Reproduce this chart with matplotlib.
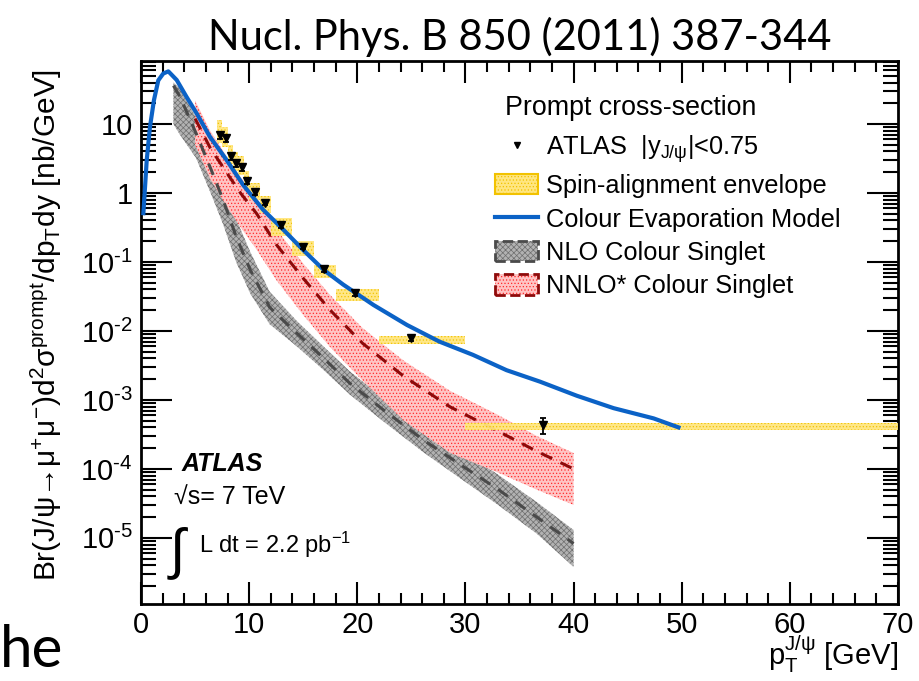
#!/usr/bin/env python3

import numpy as np
import matplotlib as mpl
import matplotlib.pyplot as plt
from matplotlib.lines import Line2D
from matplotlib.patches import Patch
from matplotlib.ticker import MultipleLocator, LogLocator, FuncFormatter, NullFormatter

W, H = 919, 681

mpl.rcParams.update({
    'font.family': ['Liberation Sans', 'DejaVu Sans'],
    'mathtext.fontset': 'custom',
    'mathtext.rm': 'Liberation Sans',
    'mathtext.it': 'Liberation Sans:italic',
    'mathtext.bf': 'Liberation Sans:bold',
    'mathtext.default': 'regular',
    'hatch.linewidth': 0.5,
})

#-----------------------------------------------------------------------------#
# ATLAS prompt J/psi, |y| < 0.75

bin_lo = [7.0, 7.5, 8.0, 8.5, 9.0, 9.5, 10.0, 11.0, 12.0, 14.0, 16.0, 18.0, 22.0, 30.0]
bin_hi = [7.5, 8.0, 8.5, 9.0, 9.5, 10.0, 11.0, 12.0, 14.0, 16.0, 18.0, 22.0, 30.0, 70.0]
pt_mean = [7.30, 7.83, 8.29, 8.79, 9.31, 9.77, 10.54, 11.47, 12.95, 14.95, 16.92, 19.79, 25.0, 37.2]
xsec = [6.9, 6.2, 3.4, 2.7, 2.35, 1.49, 1.04, 0.72, 0.34, 0.167, 0.078, 0.035, 0.0078, 4.3e-4]
xsec_err = [0.8, 0.7, 0.35, 0.28, 0.25, 0.15, 0.09, 0.06, 0.025, 0.012, 0.006, 0.0025, 0.0007, 1.1e-4]

# spin-alignment envelope per bin
spin_lo = [5.3, 4.7, 2.6, 2.1, 1.8, 1.15, 0.79, 0.51, 0.24, 0.123, 0.058, 0.0275, 0.0064, 3.7e-4]
spin_hi = [11.4, 9.0, 5.0, 3.9, 3.4, 2.1, 1.41, 0.91, 0.43, 0.201, 0.0906, 0.040, 0.00855, 4.7e-4]

# Colour Evaporation Model
cem_pt = [0.22, 0.53, 0.83, 1.2, 1.6, 2.06, 2.53, 3.3, 4.2, 5.14, 6.38, 7.92, 9.46, 11.3,
          13.2, 15.0, 16.9, 18.7, 21.5, 24.6, 27.6, 30.7, 33.8, 36.9, 40.3, 43.7, 47.4, 49.7]
cem_xs = [0.51, 3.0, 9.1, 22.3, 43.0, 54.0, 58.0, 43.5, 24.9, 14.3, 6.5, 3.0, 1.3, 0.57,
          0.29, 0.149, 0.0766, 0.047, 0.0238, 0.0122, 0.0070, 0.0045, 0.0027, 0.00184,
          0.00115, 7.6e-4, 5.4e-4, 4.0e-4]

# NLO colour singlet
nlo_pt = [3.0, 3.6, 5.1, 6.5, 7.6, 8.8, 10.1, 11.9, 14.4, 16.9, 19.3, 22.4, 26.1, 29.8, 32.9, 36.6, 40.0]
nlo_mid = [36, 25, 7.3, 2.15, 0.79, 0.233, 0.077, 0.022, 0.0093, 0.0040, 0.00175, 7.2e-4,
           2.63e-4, 1.08e-4, 5.2e-5, 2.0e-5, 8.3e-6]
nlo_hi = [40, 33, 12.5, 3.8, 1.4, 0.42, 0.14, 0.037, 0.0140, 0.0059, 0.0026, 1.08e-3,
          4.1e-4, 1.75e-4, 8.5e-5, 3.3e-5, 1.3e-5]
nlo_lo = [10, 7, 3.2, 0.95, 0.35, 0.10, 0.035, 0.0125, 0.0060, 0.0027, 0.00120, 4.9e-4,
          1.75e-4, 6.8e-5, 3.1e-5, 1.15e-5, 3.8e-6]

# NNLO* colour singlet
nnlo_pt = [5.0, 6.4, 8.2, 9.2, 10.7, 12.5, 15.0, 17.5, 20.5, 24.3, 28.6, 32.9, 36.6, 40.0]
nnlo_mid = [12, 4.5, 1.7, 1.0, 0.5, 0.18, 0.058, 0.020, 0.0066, 0.0022, 7.9e-4, 3.6e-4, 1.8e-4, 1.0e-4]
nnlo_hi = [22, 8.0, 2.9, 1.7, 0.85, 0.30, 0.095, 0.033, 0.011, 0.0037, 1.35e-3, 6.2e-4, 3.0e-4, 1.7e-4]
nnlo_lo = [5.0, 1.6, 0.55, 0.32, 0.15, 0.055, 0.017, 0.0058, 0.0019, 5.0e-4, 1.7e-4, 9.0e-5, 5.0e-5, 3.0e-5]

#-----------------------------------------------------------------------------#
# colours

c_blue = '#0b62c6'
c_gray_fill, c_gray_hatch, c_gray_line = '#b2b2b2', '#6e6e6e', '#4a4a4a'
c_red_fill, c_red_hatch, c_red_line = '#ffc4c4', '#ff2a2a', '#8e0a0a'
c_yel_fill, c_yel_hatch = '#ffe680', '#f2c200'

#-----------------------------------------------------------------------------#
# plot

fig = plt.figure(figsize=(W / 100, H / 100), dpi=100)
ax = fig.add_axes([141 / W, 1 - 604 / H, 757 / W, 543 / H])
ax.set_yscale('log')
ax.set_xlim(0, 70)
ax.set_ylim(1.1e-6, 82)

ax.fill_between(nlo_pt, nlo_lo, nlo_hi, facecolor=c_gray_fill, edgecolor=c_gray_hatch,
                hatch='xxxxxx', linewidth=0, zorder=2)
ax.plot(nlo_pt, nlo_mid, color=c_gray_line, lw=2.2, ls=(0, (4, 3)), zorder=3)

ax.fill_between(nnlo_pt, nnlo_lo, nnlo_hi, facecolor=c_red_fill, edgecolor=c_red_hatch,
                hatch='.....', linewidth=0, zorder=2)
ax.plot(nnlo_pt, nnlo_mid, color=c_red_line, lw=2.2, ls=(0, (4, 3)), zorder=3)

widths = np.array(bin_hi) - np.array(bin_lo)
heights = np.array(spin_hi) - np.array(spin_lo)
ax.bar(bin_lo, heights, width=widths, bottom=spin_lo, align='edge', facecolor=c_yel_fill,
       edgecolor=c_yel_hatch, hatch='.....', linewidth=0, alpha=0.95, zorder=4)

ax.plot(cem_pt, cem_xs, color=c_blue, lw=3, zorder=5, solid_joinstyle='round')

ax.errorbar(pt_mean, xsec, yerr=xsec_err, fmt='v', color='k', ms=6, capsize=2.5,
            elinewidth=1.3, capthick=1.3, zorder=6)

# axes and ticks
def fmt_pow(v, pos):
    e = int(round(np.log10(v)))
    if e == 0:
        return '1'
    if e == 1:
        return '10'
    return r'10$^{\text{-}%d}$' % (-e)

ax.xaxis.set_major_locator(MultipleLocator(10))
ax.xaxis.set_minor_locator(MultipleLocator(2))
ax.yaxis.set_major_locator(LogLocator(base=10, numticks=20))
ax.yaxis.set_minor_locator(LogLocator(base=10, subs=np.arange(2, 10), numticks=20))
ax.yaxis.set_major_formatter(FuncFormatter(fmt_pow))
ax.yaxis.set_minor_formatter(NullFormatter())
ax.tick_params(which='both', direction='in', top=True, right=True, width=1.5, labelsize=21)
ax.tick_params(axis='x', which='major', length=16, pad=5)
ax.tick_params(axis='x', which='minor', length=8)
ax.tick_params(axis='y', which='major', length=22, pad=6)
ax.tick_params(axis='y', which='minor', length=11)
for s in ax.spines.values():
    s.set_linewidth(2)

ax.set_ylabel('Br(J/\u03c8\u2192\u03bc$^{+}$\u03bc$^{-}$)d$^{2}$\u03c3$^{prompt}$/dp$_{T}$dy [nb/GeV]',
              fontsize=21.5)
ax.yaxis.set_label_coords(-0.102, 0.514)
ax.set_xlabel(r'p$_{T}^{J/\psi}$ [GeV]', fontsize=21, ha='right', va='baseline')
ax.xaxis.set_label_coords(1.0, -0.113)

# legend
h_data = Line2D([], [], marker='v', color='k', ls='none', markersize=5)
h_spin = Patch(facecolor=c_yel_fill, edgecolor=c_yel_hatch, hatch='.....', linewidth=1.5)
h_cem = Line2D([], [], color=c_blue, lw=3)
h_nlo = (Patch(facecolor=c_gray_fill, edgecolor=c_gray_hatch, hatch='xxxxxx', linewidth=0),
         Patch(fill=False, edgecolor=c_gray_line, linestyle='--', linewidth=2))
h_nnlo = (Patch(facecolor=c_red_fill, edgecolor=c_red_hatch, hatch='.....', linewidth=0),
          Patch(fill=False, edgecolor=c_red_line, linestyle='--', linewidth=2))
labels = [r'ATLAS  |y$_{J/\psi}$|<0.75', 'Spin-alignment envelope', 'Colour Evaporation Model',
          'NLO Colour Singlet', 'NNLO* Colour Singlet']
ax.legend([h_data, h_spin, h_cem, h_nlo, h_nnlo], labels, loc='upper left',
          bbox_to_anchor=(495 / W, 1 - 133 / H), bbox_transform=fig.transFigure,
          frameon=False, fontsize=18.3, borderpad=0, borderaxespad=0, handlelength=1.7,
          handleheight=0.85, handletextpad=0.3, labelspacing=0.37)
fig.text(505 / W, 1 - 108 / H, 'Prompt cross-section', fontsize=19.3, va='center')

# ATLAS labels
fig.text(182 / W, 1 - 464 / H, 'ATLAS', fontsize=18, fontweight='bold', fontstyle='italic', va='center')
fig.text(174 / W, 1 - 497 / H, '\u221as= 7 TeV', fontsize=18, va='center')
fig.text(170 / W, 1 - 553 / H, '\u222b', fontsize=40, va='center')
fig.text(199 / W, 1 - 545 / H, r'L dt = 2.2 pb$^{-1}$', fontsize=17, va='center')

fig.text(520 / W, 1 - 50 / H, 'Nucl. Phys. B 850 (2011) 387-344', ha='center', va='baseline',
         family='Lato', fontsize=30)
fig.text(0, 1 - 667 / H, 'he', ha='left', va='baseline', family='Lato', fontsize=42)

fig.savefig('out.png', dpi=100)
